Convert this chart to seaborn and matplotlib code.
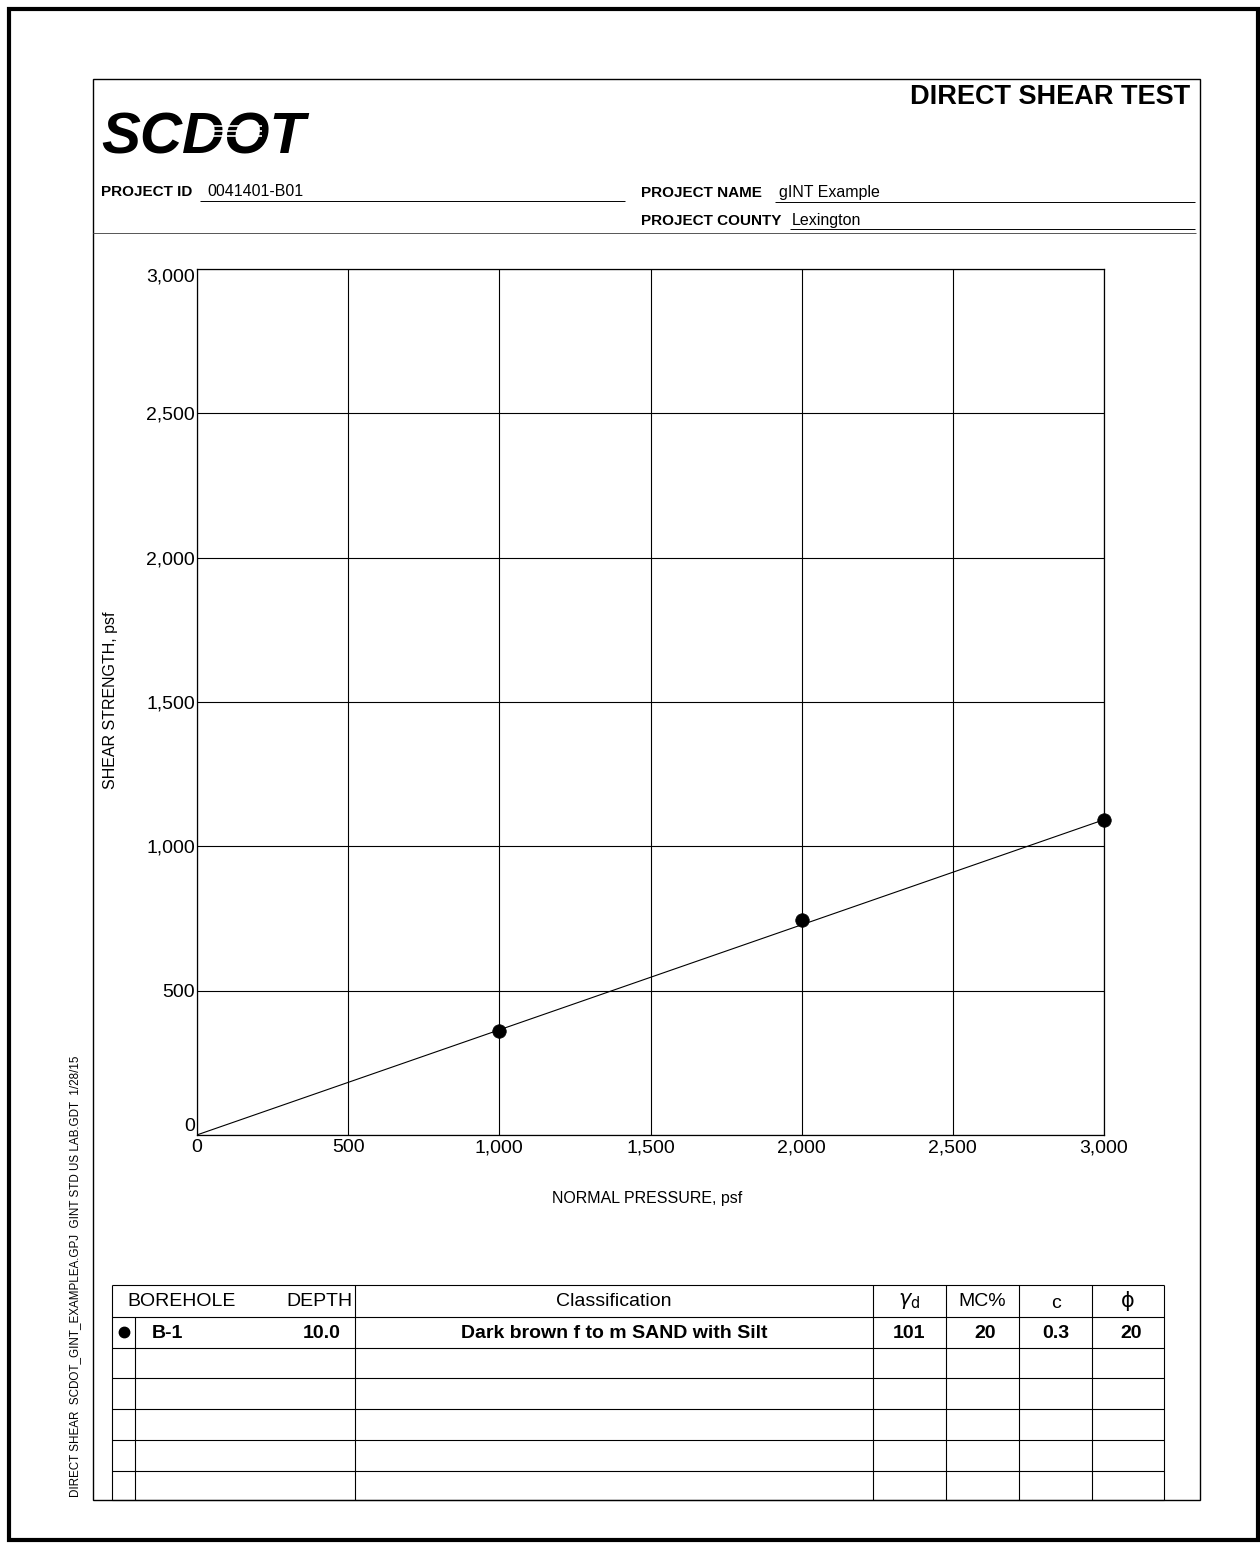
import numpy as np
import matplotlib
matplotlib.use("Agg")
import matplotlib.pyplot as plt
import seaborn as sns
from matplotlib.patches import Rectangle
from matplotlib.ticker import FuncFormatter

# Direct shear results
normal_pressure = [1000, 2000, 3000]
shear_strength = [360, 745, 1090]

# Specimen summary
borehole = ["B-1"]
depth = [10.0]
classification = ["Dark brown f to m SAND with Silt"]
dry_density = [101]
moisture = [20]
cohesion = [0.3]
friction_angle = [20]

x_ticks = [0, 500, 1000, 1500, 2000, 2500, 3000]
y_ticks = [0, 500, 1000, 1500, 2000, 2500, 3000]

project_id = "0041401-B01"
project_name = "gINT Example"
project_county = "Lexington"
footer = "DIRECT SHEAR  SCDOT_GINT_EXAMPLEA.GPJ  GINT STD US LAB.GDT  1/28/15"

sns.set_theme(style="white")
plt.rcParams["font.family"] = ["Liberation Sans", "DejaVu Sans"]
plt.rcParams["text.color"] = "black"
plt.rcParams["axes.labelcolor"] = "black"
plt.rcParams["xtick.color"] = "black"
plt.rcParams["ytick.color"] = "black"

W, H = 1260, 1543
fig = plt.figure(figsize=(W / 100, H / 100), dpi=100)

# Page layer in pixel units (y grows downward)
page = fig.add_axes([0, 0, 1, 1])
page.set_xlim(0, W)
page.set_ylim(H, 0)
page.axis("off")


def hline(x0, x1, y, lw=0.9, color="black", z=2):
    page.plot([x0, x1], [y, y], color=color, lw=lw, solid_capstyle="butt", zorder=z)


def vline(x, y0, y1, lw=0.9, color="black"):
    page.plot([x, x], [y0, y1], color=color, lw=lw, solid_capstyle="butt")


# Sheet borders
page.add_patch(Rectangle((9, 9), 1249, 1531, fill=False, lw=3.0, ec="black"))
page.add_patch(Rectangle((93, 79), 1107, 1421, fill=False, lw=1.0, ec="black"))

# Header
page.text(101, 153, "SCDOT", fontsize=42, fontweight="heavy", style="italic",
          ha="left", va="baseline", zorder=3)
for yy in (126, 131, 136):
    hline(200, 262, yy, lw=1.2, color="white", z=6)
page.text(1190, 97, "DIRECT SHEAR TEST", fontsize=19.5, fontweight="bold",
          ha="right", va="center")

page.text(101, 192, "PROJECT ID", fontsize=11, fontweight="bold", ha="left", va="center")
page.text(207, 192, project_id, fontsize=11.5, ha="left", va="center")
hline(200, 625, 201, lw=0.7)
page.text(641, 193, "PROJECT NAME", fontsize=11, fontweight="bold", ha="left", va="center")
page.text(779, 193, project_name, fontsize=11.5, ha="left", va="center")
hline(775, 1195, 202, lw=0.7)
page.text(641, 221, "PROJECT COUNTY", fontsize=11, fontweight="bold", ha="left", va="center")
page.text(792, 221, project_county, fontsize=11.5, ha="left", va="center")
hline(790, 1195, 229, lw=0.7)
hline(93, 1196, 233, lw=0.7, color="#555555")

# Shear strength envelope plot
left, right, top, bottom = 197, 1104, 269, 1135
ax = fig.add_axes([left / W, 1 - bottom / H, (right - left) / W, (bottom - top) / H])
ax.set_facecolor("none")

env_x = np.array([0.0, 3000.0])
env_y = cohesion[0] + env_x * np.tan(np.radians(friction_angle[0]))
sns.lineplot(x=env_x, y=env_y, ax=ax, color="black", lw=0.8, zorder=4)
sns.scatterplot(x=normal_pressure, y=shear_strength, ax=ax, color="black",
                s=95, edgecolor="black", linewidth=0.5, zorder=5, clip_on=False)

ax.set_xlim(0, 3000)
ax.set_ylim(0, 3000)
ax.set_xticks(x_ticks)
ax.set_yticks(y_ticks)
fmt = FuncFormatter(lambda v, p: f"{v:,.0f}")
ax.xaxis.set_major_formatter(fmt)
ax.yaxis.set_major_formatter(fmt)
ax.grid(True, color="black", lw=0.8)
ax.tick_params(axis="both", length=0, labelsize=14, colors="black")
ax.tick_params(axis="y", pad=1.5)
ax.tick_params(axis="x", pad=3)
for s in ax.spines.values():
    s.set_color("black")
    s.set_linewidth(0.9)
ax.set_xlabel("")
ax.set_ylabel("")

# End labels of the y axis sit inside the axis range
ytk = ax.yaxis.get_major_ticks()
ytk[0].label1.set_verticalalignment("bottom")
ytk[-1].label1.set_verticalalignment("top")

page.text(110, 700, "SHEAR STRENGTH, psf", fontsize=11.5, rotation=90,
          ha="center", va="center")
page.text(647, 1198, "NORMAL PRESSURE, psf", fontsize=11.5, ha="center", va="center")

# Summary table
rows = [1285, 1317, 1348, 1378, 1409, 1440, 1471, 1500]
cols = [112, 355, 873, 946, 1019, 1092, 1164]
for yy in rows:
    hline(112, 1164, yy, lw=0.8)
for xx in cols:
    vline(xx, 1285, 1500, lw=0.8)
vline(135, 1317, 1500, lw=0.8)

hy = 1302
page.text(127, hy, "BOREHOLE", fontsize=14, ha="left", va="center")
page.text(353, hy, "DEPTH", fontsize=14, ha="right", va="center")
page.text(614, hy, "Classification", fontsize=14, ha="center", va="center")
page.text(909.5, hy - 1, r"$\gamma_{\mathrm{d}}$", fontsize=15, ha="center", va="center")
page.text(982.5, hy, "MC%", fontsize=14, ha="center", va="center")
page.text(1055.5, hy + 2, "c", fontsize=14, ha="center", va="center")
page.text(1128, hy - 1, "\u03d5", fontsize=15, family=["DejaVu Sans"], ha="center", va="center")

ry = 1334
page.plot([124], [ry - 2], marker="o", ms=7.5, color="black")
page.text(152, ry, borehole[0], fontsize=14, fontweight="bold", ha="left", va="center")
page.text(341, ry, f"{depth[0]:.1f}", fontsize=14, fontweight="bold", ha="right", va="center")
page.text(614, ry, classification[0], fontsize=14, fontweight="bold", ha="center", va="center")
page.text(909.5, ry, f"{dry_density[0]}", fontsize=14, fontweight="bold", ha="center", va="center")
page.text(985, ry, f"{moisture[0]}", fontsize=14, fontweight="bold", ha="center", va="center")
page.text(1056, ry, f"{cohesion[0]}", fontsize=14, fontweight="bold", ha="center", va="center")
page.text(1131, ry, f"{friction_angle[0]}", fontsize=14, fontweight="bold", ha="center", va="center")

# Sheet footer
page.text(75, 1497, footer, fontsize=8.4, rotation=90, ha="center", va="bottom")

fig.savefig("out.png", dpi=100)
